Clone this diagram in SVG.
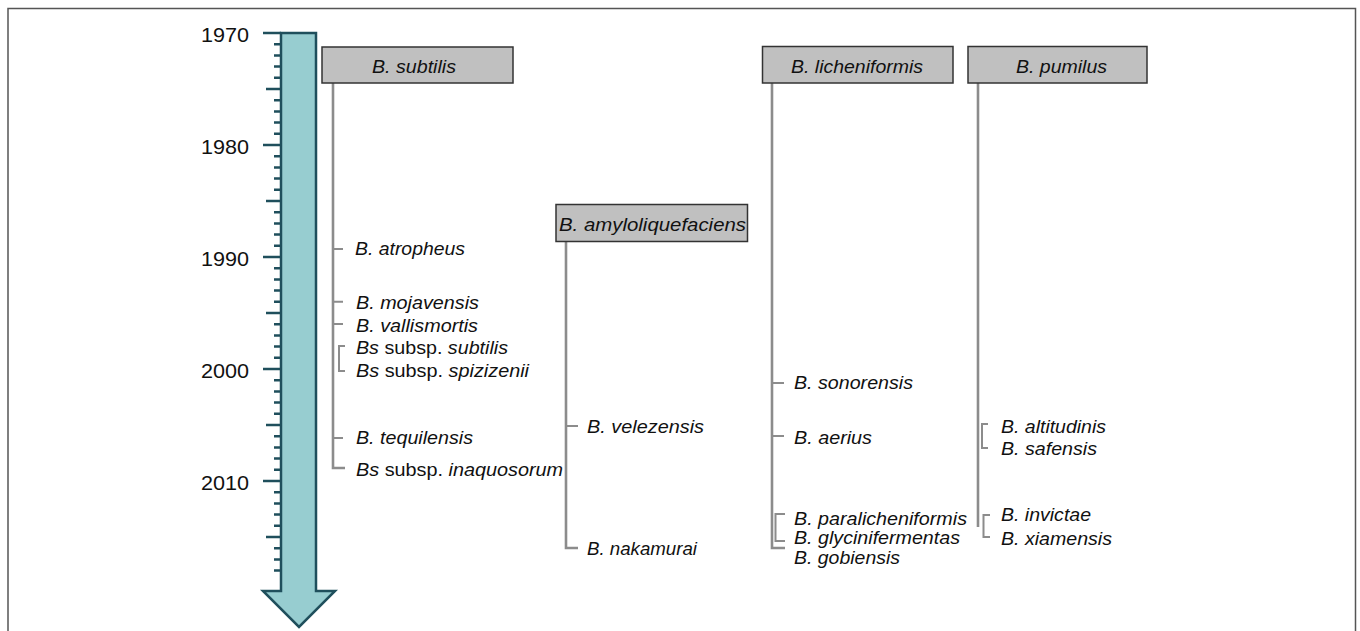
<svg xmlns="http://www.w3.org/2000/svg" width="1360" height="631" viewBox="0 0 1360 631">
<style>
text{font-family:"Liberation Sans",Arial,sans-serif;fill:#111}
.yr{font-size:20px;text-anchor:end}
.lb{font-size:17.5px;font-style:italic}
.hd{font-size:17.5px;font-style:italic}
.n{font-style:normal}
.box{fill:#c0c0c0;stroke:#333;stroke-width:1.5}
.ln{fill:none;stroke:#8c8c8c;stroke-width:2.6}
.st{fill:none;stroke:#8c8c8c;stroke-width:2}
.tk{fill:none;stroke:#1f4f5c;stroke-width:2.5}
</style>
<rect width="1360" height="631" fill="#fff"/>
<path d="M8,631 V8.5 H1355.5 V631" fill="none" stroke="#555" stroke-width="1.5"/>
<g id="timeline">
<path class="tk" d="M263,33H281M263,145H281M263,257H281M263,369H281M263,481H281"/>
<path class="tk" d="M266,89H281M266,201H281M266,313H281M266,425H281M266,537H281"/>
<path class="tk" d="M274,44.2H281M274,55.4H281M274,66.6H281M274,77.8H281M274,100.2H281M274,111.4H281M274,122.6H281M274,133.8H281M274,156.2H281M274,167.4H281M274,178.6H281M274,189.8H281M274,212.2H281M274,223.4H281M274,234.6H281M274,245.8H281M274,268.2H281M274,279.4H281M274,290.6H281M274,301.8H281M274,324.2H281M274,335.4H281M274,346.6H281M274,357.8H281M274,380.2H281M274,391.4H281M274,402.6H281M274,413.8H281M274,436.2H281M274,447.4H281M274,458.6H281M274,469.8H281M274,492.2H281M274,503.4H281M274,514.6H281M274,525.8H281M274,548.2H281M274,559.4H281M274,570.6H281"/>
<path d="M281,33 H316 V591 H335 L299,627 L263,591 H281 Z" fill="#97cdd0" stroke="#1f4f5c" stroke-width="2.5" stroke-linejoin="miter"/>
<text class="yr" x="249" y="42" textLength="48" lengthAdjust="spacingAndGlyphs">1970</text>
<text class="yr" x="249" y="154" textLength="48" lengthAdjust="spacingAndGlyphs">1980</text>
<text class="yr" x="249" y="266" textLength="48" lengthAdjust="spacingAndGlyphs">1990</text>
<text class="yr" x="249" y="378" textLength="48" lengthAdjust="spacingAndGlyphs">2000</text>
<text class="yr" x="249" y="490" textLength="48" lengthAdjust="spacingAndGlyphs">2010</text>
</g>
<g id="connectors">
<path class="ln" d="M333,83 V468 H345"/>
<path class="st" d="M333,249 H343M333,301.7 H343M333,324 H343M333,438 H343"/>
<path class="st" d="M345,346 H339 V371 H345"/>
<path class="ln" d="M566,242 V548 H578"/>
<path class="st" d="M566,426 H578"/>
<path class="ln" d="M772,83 V548 H785"/>
<path class="st" d="M772,383 H784M772,436 H784"/>
<path class="st" d="M785,514 H775.5 V541 H785"/>
<path class="ln" d="M978,83 V527"/>
<path class="st" d="M988,424 H982 V448 H988"/>
<path class="st" d="M990,515 H983.5 V537 H990"/>
</g>
<g id="subtilis">
<rect class="box" x="322" y="47" width="191" height="36"/>
<text class="hd" x="372" y="72.5" textLength="84" lengthAdjust="spacingAndGlyphs">B. subtilis</text>
</g>
<g id="atropheus"><text class="lb" x="355" y="255" textLength="110" lengthAdjust="spacingAndGlyphs">B. atropheus</text></g>
<g id="mojavensis"><text class="lb" x="356" y="309" textLength="123" lengthAdjust="spacingAndGlyphs">B. mojavensis</text></g>
<g id="vallismortis"><text class="lb" x="356" y="331.5" textLength="122" lengthAdjust="spacingAndGlyphs">B. vallismortis</text></g>
<g id="bs-subtilis"><text class="lb" x="356" y="353.5" textLength="152" lengthAdjust="spacingAndGlyphs">Bs<tspan class="n"> subsp. </tspan>subtilis</text></g>
<g id="bs-spizizenii"><text class="lb" x="356" y="377" textLength="173" lengthAdjust="spacingAndGlyphs">Bs<tspan class="n"> subsp. </tspan>spizizenii</text></g>
<g id="tequilensis"><text class="lb" x="356" y="444" textLength="117" lengthAdjust="spacingAndGlyphs">B. tequilensis</text></g>
<g id="bs-inaquosorum"><text class="lb" x="356" y="475.5" textLength="207" lengthAdjust="spacingAndGlyphs">Bs<tspan class="n"> subsp. </tspan>inaquosorum</text></g>
<g id="amyloliquefaciens">
<rect class="box" x="556" y="204.5" width="191.5" height="37"/>
<text class="hd" x="559" y="230.5" textLength="187" lengthAdjust="spacingAndGlyphs">B. amyloliquefaciens</text>
</g>
<g id="velezensis"><text class="lb" x="587" y="432.5" textLength="117" lengthAdjust="spacingAndGlyphs">B. velezensis</text></g>
<g id="nakamurai"><text class="lb" x="587" y="555" textLength="110" lengthAdjust="spacingAndGlyphs">B. nakamurai</text></g>
<g id="licheniformis">
<rect class="box" x="762.5" y="46.5" width="190.5" height="36.5"/>
<text class="hd" x="791" y="72.5" textLength="132" lengthAdjust="spacingAndGlyphs">B. licheniformis</text>
</g>
<g id="sonorensis"><text class="lb" x="794" y="388.5" textLength="119" lengthAdjust="spacingAndGlyphs">B. sonorensis</text></g>
<g id="aerius"><text class="lb" x="794" y="443.5" textLength="78" lengthAdjust="spacingAndGlyphs">B. aerius</text></g>
<g id="paralicheniformis"><text class="lb" x="794" y="525" textLength="173" lengthAdjust="spacingAndGlyphs">B. paralicheniformis</text></g>
<g id="glycinifermentas"><text class="lb" x="794" y="543.5" textLength="166" lengthAdjust="spacingAndGlyphs">B. glycinifermentas</text></g>
<g id="gobiensis"><text class="lb" x="794" y="563.5" textLength="106" lengthAdjust="spacingAndGlyphs">B. gobiensis</text></g>
<g id="pumilus">
<rect class="box" x="968" y="46.5" width="179" height="36.5"/>
<text class="hd" x="1016" y="72.5" textLength="91" lengthAdjust="spacingAndGlyphs">B. pumilus</text>
</g>
<g id="altitudinis"><text class="lb" x="1001" y="432.5" textLength="105" lengthAdjust="spacingAndGlyphs">B. altitudinis</text></g>
<g id="safensis"><text class="lb" x="1001" y="455" textLength="96" lengthAdjust="spacingAndGlyphs">B. safensis</text></g>
<g id="invictae"><text class="lb" x="1001" y="521" textLength="90" lengthAdjust="spacingAndGlyphs">B. invictae</text></g>
<g id="xiamensis"><text class="lb" x="1001" y="545" textLength="111" lengthAdjust="spacingAndGlyphs">B. xiamensis</text></g>
</svg>
